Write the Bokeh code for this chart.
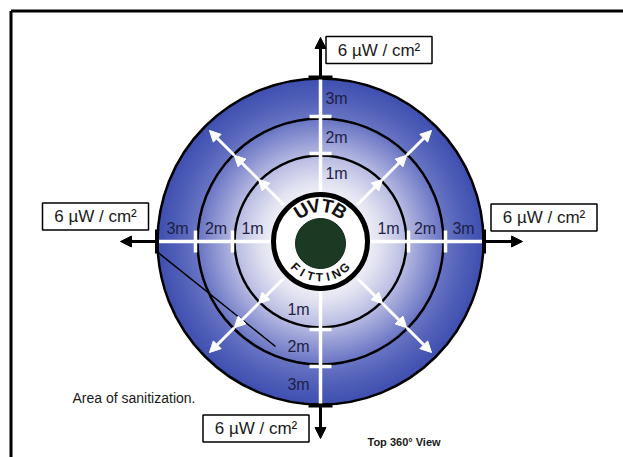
import math
from bokeh.plotting import figure
from bokeh.models import Range1d, Arrow, NormalHead
from bokeh.embed import file_html
from bokeh.resources import INLINE
from bokeh.core.properties import value

# ---------------- data ----------------
ring_labels = ["1m", "2m", "3m"]
ring_metres = [1, 2, 3]
flux_label = "6 µW / cm²"
flux_directions = ["top", "left", "right", "bottom"]
area_note = "Area of sanitization."
view_note = "Top 360° View"
fitting_top = "UVTB"
fitting_bottom = "FITTING"
spray_angles = [45, 135, 225, 315]

# ---------------- layout ----------------
W, H = 623, 457
FONT = "Liberation Sans"
CX, CY = 320, 216          # centre of the zone diagram (data = screen px, y up)
R_FIT = 48                 # fitting ring
R_ZONE = {0: 50, 1: 86, 2: 123, 3: 163}   # outer radius of each metre zone

p = figure(width=W, height=H, x_range=Range1d(0, W), y_range=Range1d(0, H),
           output_backend="svg", toolbar_location=None, min_border=0)
p.axis.visible = False
p.grid.visible = False
p.outline_line_color = None
p.background_fill_color = "white"
p.border_fill_color = "white"

# frame (top & left edges visible)
p.line(x=[10.5, 640], y=[446.5, 446.5], line_color="black", line_width=3)
p.line(x=[10.5, 10.5], y=[-10, 446.5], line_color="black", line_width=3)

# radial gradient disc
stops = [(0, (252, 252, 253)), (42, (246, 246, 250)), (60, (226, 227, 241)),
         (86, (184, 188, 226)), (105, (144, 151, 211)), (123, (106, 118, 196)),
         (145, (80, 95, 184)), (163, (64, 80, 176))]
def grad(r):
    for (r0, c0), (r1, c1) in zip(stops[:-1], stops[1:]):
        if r0 <= r <= r1:
            t = (r - r0) / (r1 - r0)
            return "#%02x%02x%02x" % tuple(int(round(a + (b - a) * t)) for a, b in zip(c0, c1))
    return "#%02x%02x%02x" % stops[-1][1]
radii = [R_ZONE[3] - k for k in range(0, R_ZONE[3], 2)]
p.circle(x=[CX] * len(radii), y=[CY] * len(radii), radius=radii,
         fill_color=[grad(r) for r in radii], line_color=None)

# black zone rings
p.circle(x=[CX] * 3, y=[CY] * 3, radius=[R_ZONE[m] for m in ring_metres],
         fill_color=None, line_color="black", line_width=2.5)

# white axis lines + ticks
for ang in (0, 90, 180, 270):
    a = math.radians(ang)
    ux, uy = math.cos(a), math.sin(a)
    p.segment(x0=[CX + ux * R_ZONE[0]], y0=[CY + uy * R_ZONE[0]],
              x1=[CX + ux * R_ZONE[3]], y1=[CY + uy * R_ZONE[3]], line_color="white", line_width=3.5)
    for m in (1, 2):
        r = R_ZONE[m] + 2
        px, py = -uy, ux
        p.segment(x0=[CX + ux * r - px * 11], y0=[CY + uy * r - py * 11],
                  x1=[CX + ux * r + px * 11], y1=[CY + uy * r + py * 11],
                  line_color="white", line_width=3.5)

# white diagonal spray arrows
for ang in spray_angles:
    a = math.radians(ang)
    ux, uy = math.cos(a), math.sin(a)
    seg = [(52, 88), (88, 122), (122, 157)]
    for r0, r1 in seg:
        p.add_layout(Arrow(x_start=CX + ux * r0, y_start=CY + uy * r0,
                           x_end=CX + ux * r1, y_end=CY + uy * r1,
                           line_color="white", line_width=3,
                           end=NormalHead(size=11, fill_color="white", line_color="white")))

# black outward arrows with T-bars
arrow_tip = {"top": 420, "bottom": 19, "left": 120, "right": 522}
for d in flux_directions:
    if d in ("top", "bottom"):
        s = 1 if d == "top" else -1
        yb = CY + s * (R_ZONE[3] + 1)
        p.segment(x0=[CX - 12], y0=[yb], x1=[CX + 12], y1=[yb], line_color="black", line_width=4)
        p.add_layout(Arrow(x_start=CX, y_start=yb, x_end=CX, y_end=arrow_tip[d],
                           line_color="black", line_width=3,
                           end=NormalHead(size=11, fill_color="black", line_color="black")))
    else:
        s = -1 if d == "left" else 1
        xb = CX + s * (R_ZONE[3] + 0.5)
        p.segment(x0=[xb], y0=[CY - 12], x1=[xb], y1=[CY + 12], line_color="black", line_width=4)
        p.add_layout(Arrow(x_start=xb, y_start=CY, x_end=arrow_tip[d], y_end=CY,
                           line_color="black", line_width=3,
                           end=NormalHead(size=11, fill_color="black", line_color="black")))

# ring labels
mid = [(R_ZONE[m - 1] + R_ZONE[m]) / 2 for m in ring_metres]
lx, ly = [], []
labs = []
for lab, r in zip(ring_labels, mid):
    lx += [CX + 16, CX - 22, CX - r, CX + r]
    ly += [CY + r, CY - r, CY + 13, CY + 13]
    labs += [lab] * 4
p.text(x=lx, y=ly, text=labs, text_font=value(FONT), text_font_size="16px",
       text_color="#1e1e46", text_align="center", text_baseline="middle")

# fitting
p.circle(x=[CX], y=[CY], radius=[R_FIT - 1], fill_color="white", line_color="black", line_width=5)
p.circle(x=[CX], y=[CY - 2], radius=[25], fill_color="#1b3a24", line_color="#10251a", line_width=1)
top_angles = [122, 101, 79, 58]
for ch, ang in zip(fitting_top, top_angles):
    a = math.radians(ang)
    p.text(x=[CX + 36 * math.cos(a)], y=[CY + 36 * math.sin(a)], text=[ch],
           angle=math.radians(ang - 90), text_font=value(FONT), text_font_style="bold",
           text_font_size="19px", text_color="#111111", text_align="center", text_baseline="middle")
bot_angles = [-134, -120, -106, -92, -78, -64, -48]
for ch, ang in zip(fitting_bottom, bot_angles):
    a = math.radians(ang)
    p.text(x=[CX + 36 * math.cos(a)], y=[CY + 36 * math.sin(a)], text=[ch],
           angle=math.radians(ang + 90), text_font=value(FONT), text_font_style="bold",
           text_font_size="12px", text_color="#111111", text_align="center", text_baseline="middle")

# flux boxes
box_cx = {"top": 378.5, "left": 95, "right": 543.5, "bottom": 255.5}
box_cy = {"top": 407.5, "left": 241, "right": 240, "bottom": 29}
bx = [box_cx[d] for d in flux_directions]
by = [box_cy[d] for d in flux_directions]
p.rect(x=bx, y=by, width=106, height=27, fill_color="white", line_color="black", line_width=1.5)
p.text(x=bx, y=by, text=[flux_label] * len(bx), text_font=value(FONT), text_font_size="17px",
       text_color="#1a1a1a", text_align="center", text_baseline="middle")

# pointer line and notes
p.line(x=[155, 275], y=[207, 111], line_color="black", line_width=1.5)
p.text(x=[72], y=[60], text=[area_note], text_font=value(FONT), text_font_size="14px",
       text_color="#1a1a1a", text_align="left", text_baseline="middle")
p.text(x=[367], y=[16], text=[view_note], text_font=value(FONT), text_font_style="bold",
       text_font_size="11px", text_color="#1a1a1a", text_align="left", text_baseline="middle")

open("out.html", "w").write(file_html(p, INLINE))
